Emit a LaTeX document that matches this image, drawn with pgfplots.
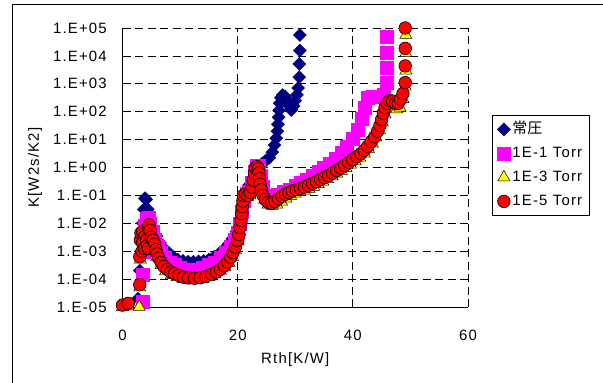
\documentclass[border=0pt]{standalone}
\usepackage{pgfplots}
\pgfplotsset{compat=1.18}
\usepackage{fontspec}
\setmainfont{Liberation Sans}[LetterSpace=8]
\newfontfamily\cjk{Noto Sans CJK JP}
\definecolor{navyb}{RGB}{0,0,128}
\definecolor{magb}{RGB}{255,0,255}
\definecolor{yelb}{RGB}{255,255,0}
\definecolor{redb}{RGB}{255,0,0}
\begin{document}
\begin{tikzpicture}
\path[use as bounding box] (0bp,0bp) rectangle (603bp,383bp);
\draw[line width=1bp] (12bp,-2bp) -- (12bp,378bp) -- (605bp,378bp);
\begin{axis}[
  at={(122.5bp,76bp)}, anchor=south west,
  scale only axis, width=345.5bp, height=279bp,
  xmin=0, xmax=60, ymode=log, ymin=1e-5, ymax=1e5,
  clip=false,
  axis x line=bottom, axis y line=left,
  axis line style={-, line width=0.9bp, black},
  xtick={0,20,40,60},
  ytick={1e-5,1e-4,1e-3,1e-2,1e-1,1e0,1e1,1e2,1e3,1e4,1e5},
  yticklabels={1.E-05,1.E-04,1.E-03,1.E-02,1.E-01,1.E+00,1.E+01,1.E+02,1.E+03,1.E+04,1.E+05},
  minor ytick={}, yminorticks=false,
  major tick length=0pt,
  tick label style={font=\fontsize{15}{17}\selectfont, inner sep=0pt},
  xticklabel style={anchor=north, yshift=-23bp, /pgf/number format/assume math mode=true},
  yticklabel style={anchor=east, xshift=-15.5bp},
  grid=major,
  major grid style={black, line width=0.7bp, dash pattern=on 8bp off 4.5bp},
  xlabel={Rth[K/W]}, ylabel={K[W2s/K2]},
  every axis x label/.style={at={(axis description cs:0.5,0)}, anchor=center, yshift=-53bp, font=\fontsize{15}{17}\selectfont},
  every axis y label/.style={at={(axis description cs:-0.2533,0.5)}, rotate=90, anchor=center, font=\fontsize{15}{17}\selectfont},
  legend style={at={(1.0695,0.688)}, anchor=north west, draw=black, line width=0.7bp,
    font=\fontsize{15}{17}\selectfont, inner sep=5bp, row sep=6bp,
    nodes={inner sep=2bp, text height=11bp, text depth=3bp}},
  legend cell align=left,
  legend image code/.code={\draw[#1, line width=0.6bp] plot coordinates {(0bp,0bp)};},
]
\addplot[only marks, mark=square*, mark size=4.6bp, mark options={rotate=45, fill=navyb, draw=navyb}] coordinates {
(2.7,2.0e-5)(3.0,2.0e-4)(3.2,1.0e-3)(3.3,3.16e-3)(3.5,1.0e-2)(3.7,3.16e-2)(3.9,7.94e-2)(4.1,7.08e-2)
(4.4,3.16e-2)(4.8,1.41e-2)(5.3,7.08e-3)(5.9,3.55e-3)(6.5,2.0e-3)(7.2,1.26e-3)(8.0,8.91e-4)(8.8,6.31e-4)
(9.6,5.01e-4)(10.5,4.47e-4)(11.4,4.17e-4)(12.3,4.17e-4)(13.2,4.27e-4)(14.1,4.47e-4)(15,5.01e-4)(15.9,6.31e-4)
(16.8,8.32e-4)(17.6,1.17e-3)(18.4,1.78e-3)(19.1,2.82e-3)(19.8,5.01e-3)(20.3,1.0e-2)(20.7,2.51e-2)(21.0,6.31e-2)
(21.4,1.26e-1)(21.9,2.24e-1)(22.5,3.55e-1)(23.1,5.01e-1)(23.7,7.94e-1)(24.3,1.41)(24.9,1.78)(25.5,2.24)
(26.0,3.55)(26.4,6.31)(26.7,11.2)(26.9,20.0)(27.0,35.5)(27.1,63.1)(27.2,112)(27.3,200)(27.5,316)(27.8,398)
(28.2,355)(28.6,251)(29.0,158)(29.3,115)(29.7,158)(30.0,251)(30.3,398)(30.5,708)(30.7,1740)(30.7,5130)
(30.8,15500)(30.8,56200)
};
\addlegendentry{{\cjk 常圧}}
\addplot[only marks, mark=square*, mark size=6.5bp, mark options={fill=magb, draw=magb}] coordinates {
(3.5,1.58e-5)(3.5,1.41e-4)(3.6,1.0e-3)(3.7,3.16e-3)(3.9,7.94e-3)(4.2,1.41e-2)(4.5,1.58e-2)(4.8,1.0e-2)
(5.2,5.01e-3)(5.6,2.51e-3)(6.1,1.41e-3)(6.7,8.91e-4)(7.4,5.62e-4)(8.2,3.98e-4)(9.0,3.16e-4)(10,2.51e-4)
(11,2.24e-4)(12,2.14e-4)(13,2.24e-4)(14,2.51e-4)(15,3.16e-4)(16,3.98e-4)(17,5.62e-4)(18,8.91e-4)
(18.8,1.41e-3)(19.5,2.51e-3)(20,4.47e-3)(20.4,1.0e-2)(20.7,2.51e-2)(21,6.31e-2)(21.5,1.12e-1)(22,1.41e-1)
(22.5,2.82e-1)(22.9,7.08e-1)(23.3,1.20)(23.7,1.12)(24,5.01e-1)(24.3,2.0e-1)(24.8,1.0e-1)(25.5,7.94e-2)
(26.3,8.32e-2)(27,1.05e-1)(28,1.32e-1)(29,1.66e-1)(30,2.19e-1)(31,2.82e-1)(32,3.72e-1)(33,5.01e-1)
(34,6.92e-1)(35,9.77e-1)(36,1.41)(37,2.09)(38,3.31)(39,5.62)(40,10.5)(40.8,22.4)(41.5,56.2)(42,141)
(42.5,316)(43.5,339)(44.5,339)(45.3,398)(45.8,1070)(45.8,3720)(45.8,12600)(45.8,47900)
};
\addlegendentry{1E-1 Torr}
\addplot[only marks, mark=triangle*, mark size=7bp, mark options={fill=yelb, draw=black, line width=0.5bp}] coordinates {
(0,1.0e-5)(1,1.05e-5)(2.9,1.02e-5)(3.0,5.01e-5)(3.1,5.01e-4)(3.3,3.16e-3)(3.6,3.98e-3)(3.9,2.51e-3)
(4.3,1.78e-3)(4.6,6.31e-3)(4.9,4.47e-3)(5.4,1.78e-3)(6.0,6.31e-4)(6.7,3.16e-4)(7.5,1.91e-4)(8.5,1.41e-4)
(9.5,1.17e-4)(10.6,1.0e-4)(11.7,9.33e-5)(12.8,9.33e-5)(13.9,1.0e-4)(15,1.17e-4)(16,1.48e-4)(17,2.0e-4)
(17.8,2.63e-4)(18.5,3.80e-4)(19.1,6.31e-4)(19.6,1.12e-3)(20.1,2.24e-3)(20.4,5.01e-3)(20.7,1.26e-2)(20.9,3.16e-2)
(21.1,7.08e-2)(21.6,8.91e-2)(22.1,1.0e-1)(22.5,1.58e-1)(22.9,4.47e-1)(23.3,8.32e-1)(23.7,6.31e-1)(23.9,2.82e-1)
(24.2,1.26e-1)(24.7,7.08e-2)(25.3,4.68e-2)(26,4.17e-2)(26.8,4.68e-2)(27.6,6.03e-2)(28.4,7.59e-2)(29.2,9.55e-2)
(30,1.15e-1)(30.8,1.32e-1)(31.6,1.48e-1)(32.4,1.70e-1)(33.2,2.04e-1)(34,2.51e-1)(34.8,3.09e-1)(35.6,3.80e-1)
(36.4,4.79e-1)(37.2,6.03e-1)(38,7.59e-1)(38.8,9.55e-1)(39.6,1.26)(40.4,1.66)(41.2,2.24)(42,3.16)
(42.7,4.68)(43.4,7.24)(44,12.0)(44.6,22.4)(45.1,41.7)(45.6,79.4)(46.3,141)(47,132)(47.6,120)(48.2,141)
(48.7,282)(49.1,794)(49.2,2950)(49.2,12600)(49.2,56200)
};
\addlegendentry{1E-3 Torr}
\addplot[only marks, mark=*, mark size=6.3bp, mark options={fill=redb, draw=black, line width=0.6bp}] coordinates {
(0.0,1.17e-5)(1.0,1.35e-5)(3.0,6.31e-5)(3.0,6.31e-4)(3.1,2.51e-3)(3.2,4.47e-3)(3.5,5.01e-3)(3.8,3.16e-3)
(3.5,2.0e-3)(3.4,1.0e-3)(3.8,1.26e-3)(4.2,2.51e-3)(4.5,6.31e-3)(4.6,8.91e-3)(4.8,5.62e-3)(4.3,1.58e-3)
(4.5,1.26e-3)(5.0,3.16e-3)(5.3,2.51e-3)(5.6,1.78e-3)(5.8,1.12e-3)(6.0,7.94e-4)(6.3,5.62e-4)(6.7,3.98e-4)
(7.2,2.82e-4)(7.8,2.24e-4)(8.4,1.78e-4)(9.0,1.58e-4)(9.8,1.35e-4)(10.6,1.17e-4)(11.5,1.10e-4)(12.5,1.07e-4)
(13.5,1.12e-4)(14.5,1.26e-4)(15.5,1.51e-4)(16.3,1.78e-4)(17.0,2.24e-4)(17.7,3.02e-4)(18.3,4.17e-4)(18.8,6.03e-4)
(19.2,8.91e-4)(19.6,1.41e-3)(20.0,2.40e-3)(20.2,3.98e-3)(20.4,7.08e-3)(20.6,1.26e-2)(20.7,2.24e-2)(20.8,3.98e-2)
(20.9,6.31e-2)(21.0,1.0e-1)(21.4,1.12e-1)(21.8,1.0e-1)(22.2,1.26e-1)(22.5,2.0e-1)(22.7,3.55e-1)(22.9,6.31e-1)
(23.1,1.0)(23.4,1.07)(23.6,8.91e-1)(23.7,6.31e-1)(23.8,3.98e-1)(23.9,2.51e-1)(24.1,1.58e-1)(24.4,1.0e-1)
(24.8,7.08e-2)(25.3,5.62e-2)(25.9,5.25e-2)(26.5,6.03e-2)(27.1,7.59e-2)(27.7,9.33e-2)(28.3,1.10e-1)(28.9,1.26e-1)
(29.5,1.45e-1)(30.2,1.62e-1)(30.9,1.78e-1)(31.6,2.0e-1)(32.3,2.29e-1)(33.0,2.69e-1)(33.7,3.16e-1)(34.4,3.72e-1)
(35.1,4.37e-1)(35.8,5.13e-1)(36.5,6.31e-1)(37.2,7.76e-1)(37.9,9.55e-1)(38.6,1.20)(39.3,1.51)(40.0,1.91)
(40.7,2.45)(41.4,3.16)(42.0,4.17)(42.6,5.75)(43.2,8.51)(43.8,12.6)(44.3,20.0)(44.7,31.6)(45.0,52.5)(45.3,89.1)
(45.6,141)(46.0,200)(46.4,251)(46.9,240)(47.4,200)(47.9,200)(48.3,282)(48.7,447)(49.1,1100)(49.1,4370)
(49.1,18600)(49.1,100000)
};
\addlegendentry{1E-5 Torr}
\end{axis}
\end{tikzpicture}
\end{document}
